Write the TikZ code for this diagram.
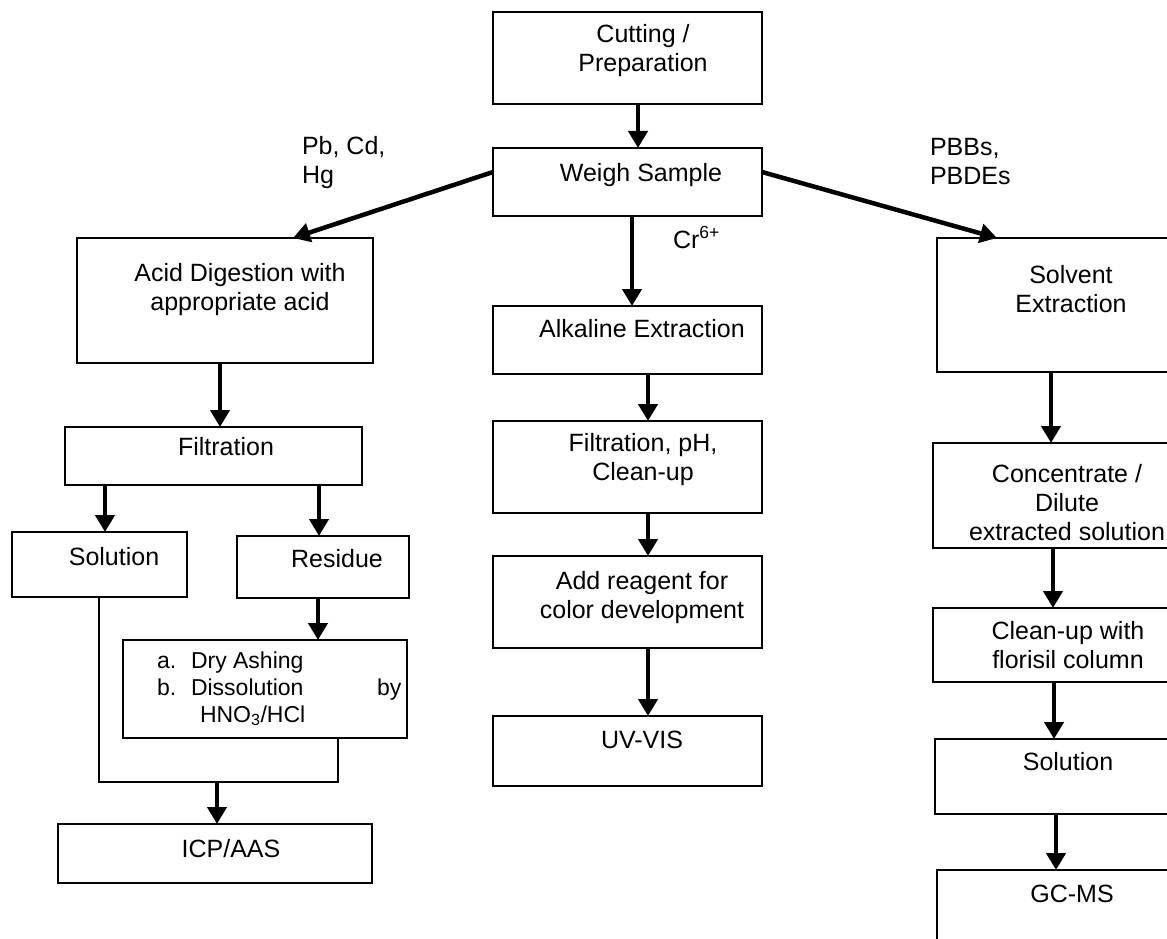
\documentclass[tikz,border=0pt]{standalone}
\usepackage{fontspec}
\setmainfont{Liberation Sans}
\usetikzlibrary{arrows.meta}
\newcommand\bigfont{\fontsize{25}{29}\selectfont}
\newcommand\midfont{\fontsize{23}{27}\selectfont}
\tikzset{
 bx/.style={draw, line width=2pt, inner sep=0pt, outer sep=0pt, anchor=north west},
 arr/.style={line width=4.5pt, -{Triangle[width=19pt,length=17pt]}},
 thinline/.style={line width=2pt},
 lbl/.style={inner sep=0pt, outer sep=0pt, font=\bigfont, align=center, anchor=base},
 lbll/.style={inner sep=0pt, outer sep=0pt, font=\bigfont, align=left, anchor=base west},
 dlbl/.style={inner sep=0pt, outer sep=0pt, font=\midfont, anchor=base west},
}
\begin{document}
\begin{tikzpicture}[x=1pt,y=-1pt]
\useasboundingbox (0,0) rectangle (1167,939);
\fill[white] (0,0) rectangle (1167,939);
\clip (0,0) rectangle (1167,939);
% boxes
\node[bx, minimum width=269pt, minimum height=92pt] (cut) at (493,12) {};
\node[bx, minimum width=269pt, minimum height=68pt] (weigh) at (493,148) {};
\node[bx, minimum width=296pt, minimum height=125pt] (acid) at (77,238) {};
\node[bx, minimum width=297pt, minimum height=58pt] (filt) at (65,427) {};
\node[bx, minimum width=175pt, minimum height=65pt] (soln) at (12,532) {};
\node[bx, minimum width=172pt, minimum height=62pt] (resid) at (237,536) {};
\node[bx, minimum width=284pt, minimum height=98pt] (dry) at (123,640) {};
\node[bx, minimum width=314pt, minimum height=59pt] (icp) at (58,824) {};
\node[bx, minimum width=269pt, minimum height=68pt] (alk) at (493,306) {};
\node[bx, minimum width=269pt, minimum height=92pt] (fph) at (493,421) {};
\node[bx, minimum width=269pt, minimum height=92pt] (addr) at (493,556) {};
\node[bx, minimum width=269pt, minimum height=70pt] (uv) at (493,716) {};
\node[bx, minimum width=260pt, minimum height=134pt] (solv) at (937,238) {};
\node[bx, minimum width=260pt, minimum height=105pt] (conc) at (933,443) {};
\node[bx, minimum width=260pt, minimum height=74pt] (clean) at (933,608) {};
\node[bx, minimum width=260pt, minimum height=75pt] (rsol) at (935,739) {};
\node[bx, minimum width=260pt, minimum height=100pt] (gcms) at (937,870) {};
% texts (base anchor = baseline of last line)
\node[lbl] (tcut) at (643,72) {Cutting /\\Preparation};
\node[lbl] (tweigh) at (641,182) {Weigh Sample};
\node[lbl] (tacid) at (240,310) {Acid Digestion with\\appropriate acid};
\node[lbl] (tfilt) at (226,455) {Filtration};
\node[lbl] (tsoln) at (114,565) {Solution};
\node[lbl] (tresid) at (337,567) {Residue};
\node[dlbl] (ta) at (157,668) {a.};
\node[dlbl] (tdry) at (191,668) {Dry Ashing};
\node[dlbl] (tb) at (157,695) {b.};
\node[dlbl] (tdis) at (191,695) {Dissolution};
\node[dlbl] (tby) at (377,695) {by};
\node[dlbl] (thno) at (200,722) {HNO\textsubscript{3}/HCl};
\node[lbl] (ticp) at (231,857) {ICP/AAS};
\node[lbl] (talk) at (642,337) {Alkaline Extraction};
\node[lbl] (tfph) at (643,480) {Filtration, pH,\\Clean-up};
\node[lbl] (taddr) at (642,618) {Add reagent for\\color development};
\node[lbl] (tuv) at (642,748) {UV-VIS};
\node[lbl] (tsolv) at (1071,312) {Solvent\\Extraction};
\node[lbl] (tconc) at (1067,540) {Concentrate /\\Dilute\\extracted solution};
\node[lbl] (tclean) at (1068,668) {Clean-up with\\florisil column};
\node[lbl] (trsol) at (1068,770) {Solution};
\node[lbl] (tgc) at (1072,902) {GC-MS};
\node[lbll] (tpb) at (302,183) {Pb, Cd,\\Hg};
\node[lbll] (tpbb) at (930,184) {PBBs,\\PBDEs};
\node[lbll] (tcr) at (673,248) {Cr\textsuperscript{6+}};
% x positions
\coordinate (x1) at (638,0);
\coordinate (x2) at (632,0);
\coordinate (x3) at (648,0);
\coordinate (x4) at (220,0);
\coordinate (x5) at (105,0);
\coordinate (x6) at (319,0);
\coordinate (x7) at (318,0);
\coordinate (x8) at (1051,0);
\coordinate (x9) at (1053,0);
\coordinate (x10) at (1054,0);
\coordinate (x11) at (1056,0);
\coordinate (accl) at (293,0);
\coordinate (solvl) at (997,0);
\coordinate (mL) at (99,782);
\coordinate (mR) at (338,782);
\coordinate (mC) at (217,782);
% arrows
\draw[arr] (cut.south -| x1) -- (weigh.north -| x1);
\draw[arr] ([yshift=10pt]weigh.west) -- (acid.north -| accl);
\draw[arr] ([yshift=10pt]weigh.east) -- (solv.north -| solvl);
\draw[arr] (weigh.south -| x2) -- (alk.north -| x2);
\draw[arr] (acid.south -| x4) -- (filt.north -| x4);
\draw[arr] (filt.south -| x5) -- (soln.north -| x5);
\draw[arr] (filt.south -| x6) -- (resid.north -| x6);
\draw[arr] (resid.south -| x7) -- (dry.north -| x7);
\draw[thinline] (soln.south -| mL) -- (mL) -- (mR) -- (dry.south -| mR);
\draw[arr] (mC) -- (icp.north -| mC);
\draw[arr] (alk.south -| x3) -- (fph.north -| x3);
\draw[arr] (fph.south -| x3) -- (addr.north -| x3);
\draw[arr] (addr.south -| x3) -- (uv.north -| x3);
\draw[arr] (solv.south -| x8) -- (conc.north -| x8);
\draw[arr] (conc.south -| x9) -- (clean.north -| x9);
\draw[arr] (clean.south -| x10) -- (rsol.north -| x10);
\draw[arr] (rsol.south -| x11) -- (gcms.north -| x11);
\end{tikzpicture}
\end{document}
